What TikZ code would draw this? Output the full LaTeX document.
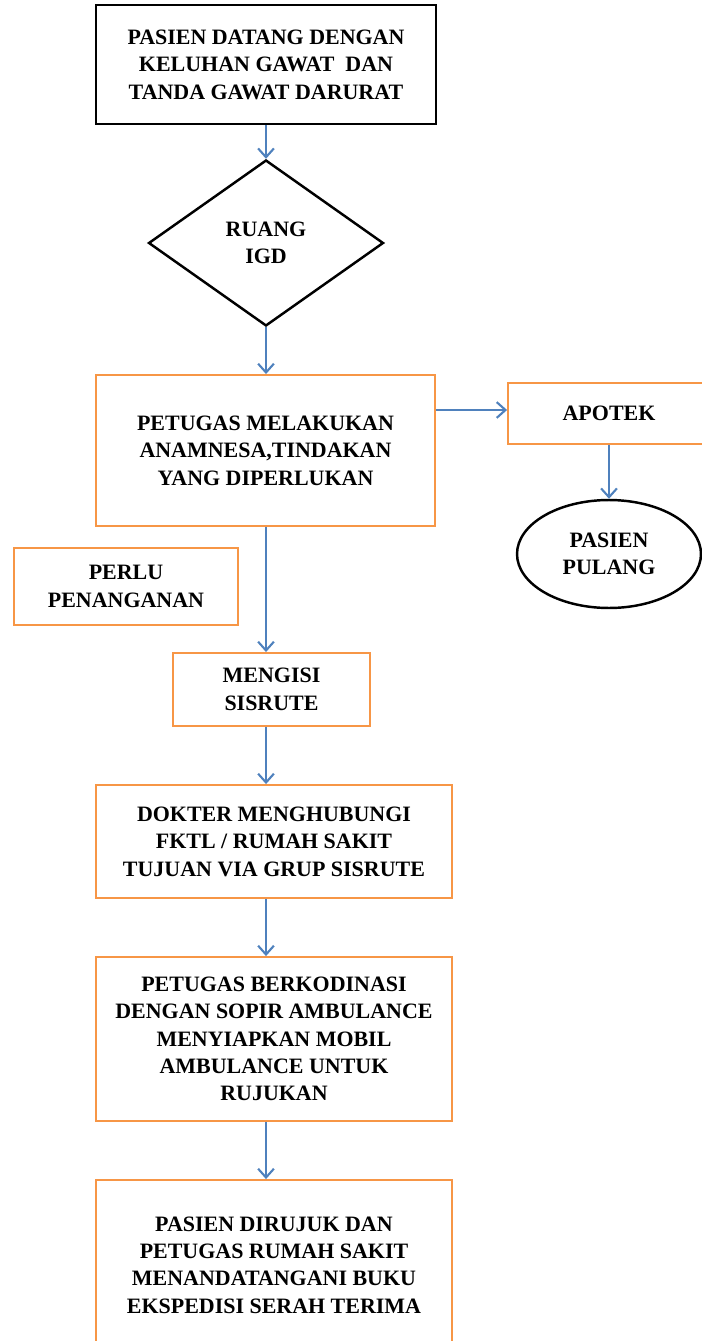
\documentclass[tikz,border=0pt]{standalone}
\usepackage{fontspec}
\setmainfont{Liberation Serif}
\usetikzlibrary{shapes.geometric,arrows.meta}

\definecolor{oranye}{RGB}{247,150,70}
\definecolor{biru}{RGB}{79,129,189}

\tikzset{
    kotak/.style={draw=oranye, line width=1.1pt, align=center, inner sep=2pt},
    awal/.style={draw=black, line width=1.5pt, align=center, inner sep=2pt},
    keputusan/.style={diamond, draw=black, line width=1.4pt, align=center, inner sep=0pt},
    akhir/.style={ellipse, draw=black, line width=1.4pt, align=center, inner sep=0pt},
    alur/.style={draw=biru, line width=1.2pt, -{Straight Barb[length=5pt,width=9pt]}}
}

\begin{document}
\begin{tikzpicture}[x=0.02cm, y=-0.02cm, font=\fontsize{12.5}{15.6}\selectfont\bfseries]
    % Batas gambar
    \useasboundingbox (0,0) rectangle (701,1341);
    \coordinate (poros) at (266,0);

    % Kotak
    \node[awal, minimum width=6.8cm, minimum height=2.38cm] (datang) at (266,64.5)
        {PASIEN DATANG DENGAN\\KELUHAN GAWAT~ DAN\\TANDA GAWAT DARURAT};
    \node[keputusan, minimum width=4.7cm, minimum height=3.32cm] (igd) at (266,243)
        {RUANG\\IGD};
    \node[kotak, minimum width=6.78cm, minimum height=3.02cm] (anamnesa) at (265.5,450.5)
        {PETUGAS MELAKUKAN\\ANAMNESA,TINDAKAN\\YANG DIPERLUKAN};
    \node[kotak, minimum width=4.04cm, minimum height=1.22cm] (apotek) at (609,413.5)
        {APOTEK};
    \node[akhir, minimum width=3.68cm, minimum height=2.16cm] (pulang) at (609,554)
        {PASIEN\\PULANG};
    \node[kotak, minimum width=4.48cm, minimum height=1.54cm] (perlu) at (126,586.5)
        {PERLU\\PENANGANAN};
    \node[kotak, minimum width=3.94cm, minimum height=1.46cm] (sisrute) at (271.5,689.5)
        {MENGISI\\SISRUTE};
    \node[kotak, minimum width=7.12cm, minimum height=2.26cm] (dokter) at (274,841.5)
        {DOKTER MENGHUBUNGI\\FKTL / RUMAH SAKIT\\TUJUAN VIA GRUP SISRUTE};
    \node[kotak, minimum width=7.12cm, minimum height=3.28cm] (ambulance) at (274,1039)
        {PETUGAS BERKODINASI\\DENGAN SOPIR AMBULANCE\\MENYIAPKAN MOBIL\\AMBULANCE UNTUK\\RUJUKAN};
    \node[kotak, minimum width=7.12cm, minimum height=3.4cm] (rujuk) at (274,1265)
        {PASIEN DIRUJUK DAN\\PETUGAS RUMAH SAKIT\\MENANDATANGANI BUKU\\EKSPEDISI SERAH TERIMA};

    % Panah
    \draw[alur] (datang.south -| igd.north) -- (igd.north);
    \draw[alur] (igd.south) -- (anamnesa.north -| igd.south);
    \draw[alur] (anamnesa.east |- 0,410) -- (apotek.west |- 0,410);
    \draw[alur] (apotek.south) -- (pulang.north);
    \draw[alur] (anamnesa.south -| poros) -- (sisrute.north -| poros);
    \draw[alur] (sisrute.south -| poros) -- (dokter.north -| poros);
    \draw[alur] (dokter.south -| poros) -- (ambulance.north -| poros);
    \draw[alur] (ambulance.south -| poros) -- (rujuk.north -| poros);
\end{tikzpicture}
\end{document}
